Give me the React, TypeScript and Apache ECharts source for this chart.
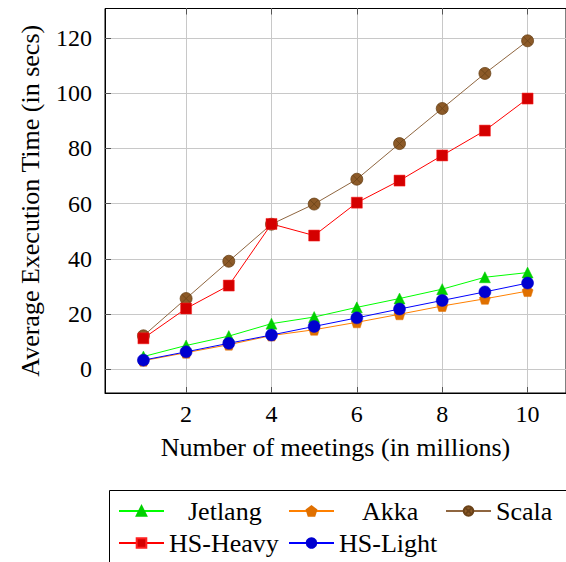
import React, { useEffect, useRef } from "react";
import * as echarts from "echarts";

const xValues = [1, 2, 3, 4, 5, 6, 7, 8, 9, 10];
const jetlang = [4.6, 8.6, 12.0, 16.5, 18.9, 22.4, 25.6, 29.0, 33.3, 35.0];
const akka = [3.1, 6.0, 8.9, 12.2, 14.3, 17.0, 19.9, 22.9, 25.5, 28.3];
const scala = [12.1, 25.6, 39.1, 52.5, 59.8, 68.8, 81.7, 94.4, 107.1, 118.9];
const hsHeavy = [11.2, 22.0, 30.3, 52.6, 48.4, 60.3, 68.3, 77.4, 86.4, 98.0];
const hsLight = [3.3, 6.3, 9.4, 12.4, 15.5, 18.6, 21.8, 24.9, 28.0, 31.2];

const xTicks = [2, 4, 6, 8, 10];
const yTicks = [0, 20, 40, 60, 80, 100, 120];

const FONT = "Times New Roman";
const FS = 24;
const FS_BIG = 26;

const pentagon =
  "path://M0,-1 L0.951,-0.309 L0.588,0.809 L-0.588,0.809 L-0.951,-0.309 Z";
const otimes =
  "path://M1,0 A1,1 0 1 1 -1,0 A1,1 0 1 1 1,0 Z M-0.7,-0.7 L0.7,0.7 M-0.7,0.7 L0.7,-0.7";

function pairs(ys: number[]) {
  return xValues.map((x, i) => [x, ys[i]]);
}

export default function App() {
  const ref = useRef<HTMLDivElement>(null);
  useEffect(() => {
    if (!ref.current) return;
    const chart = echarts.init(ref.current, undefined, { renderer: "svg" });
    const seriesDefs = [
      { name: "Jetlang", data: jetlang, line: "#00ff00", fill: "#00d000", border: "#00d000", symbol: "triangle", size: 11 },
      { name: "Akka", data: akka, line: "#ff8000", fill: "#e07000", border: "#e07000", symbol: pentagon, size: 11 },
      { name: "Scala", data: scala, line: "#8f6640", fill: "#8c5a28", border: "#6a4218", symbol: otimes, size: 12 },
      { name: "HS-Heavy", data: hsHeavy, line: "#ff0000", fill: "#d40000", border: "#ff2020", symbol: "rect", size: 11 },
      { name: "HS-Light", data: hsLight, line: "#0000ff", fill: "#0000d0", border: "#0000d0", symbol: "circle", size: 12 },
    ];
    const legendPos: Record<string, { left: number; top: number; pad: number }> = {
      Jetlang: { left: 118, top: 498, pad: 19 },
      Akka: { left: 288, top: 498, pad: 23 },
      Scala: { left: 445, top: 498, pad: 0 },
      "HS-Heavy": { left: 118, top: 530, pad: 0 },
      "HS-Light": { left: 288, top: 530, pad: 0 },
    };
    const option: any = {
      animation: false,
      backgroundColor: "#ffffff",
      textStyle: { fontFamily: FONT, fontSize: FS },
      grid: {
        left: 105,
        top: 8.5,
        right: -5,
        bottom: 169,
        show: true,
        borderColor: "#000",
        borderWidth: 1,
        backgroundColor: "transparent",
      },
      xAxis: [
        {
          type: "value",
          min: 0.1,
          max: 10.9,
          name: "Number of meetings (in millions)",
          nameLocation: "middle",
          nameGap: 41,
          nameTextStyle: { fontFamily: FONT, fontSize: FS_BIG, color: "#000" },
          axisLine: { show: true, onZero: false, lineStyle: { color: "#000", width: 1 } },
          axisTick: { show: true, inside: true, length: 6, customValues: xTicks, lineStyle: { color: "#555" } },
          axisLabel: { customValues: xTicks, fontFamily: FONT, fontSize: FS, color: "#000", margin: 9 },
          splitLine: { show: true, lineStyle: { color: "#c8c8c8", width: 1 } },
        },
        {
          type: "value",
          position: "top",
          min: 0.1,
          max: 10.9,
          axisLine: { show: false, onZero: false },
          axisTick: { show: true, inside: true, length: 6, customValues: xTicks, lineStyle: { color: "#555" } },
          axisLabel: { show: false },
          splitLine: { show: false },
        },
      ],
      yAxis: [
        {
          type: "value",
          min: -8.6,
          max: 130.6,
          name: "Average Execution Time (in secs)",
          nameLocation: "middle",
          nameGap: 62,
          nameRotate: 90,
          nameTextStyle: { fontFamily: FONT, fontSize: FS_BIG, color: "#000" },
          axisLine: { show: true, onZero: false, lineStyle: { color: "#000", width: 1 } },
          axisTick: { show: true, inside: true, length: 6, customValues: yTicks, lineStyle: { color: "#555" } },
          axisLabel: { customValues: yTicks, fontFamily: FONT, fontSize: FS, color: "#000", margin: 13 },
          splitLine: { show: true, lineStyle: { color: "#c8c8c8", width: 1 } },
        },
      ],
      legend: seriesDefs.map((s) => ({
        data: [s.name],
        left: legendPos[s.name].left,
        top: legendPos[s.name].top,
        padding: 0,
        itemWidth: 45,
        itemHeight: 12,
        itemGap: 0,
        selectedMode: false,
        textStyle: {
          fontFamily: FONT,
          fontSize: FS_BIG,
          color: "#000",
          padding: [0, 0, 0, legendPos[s.name].pad],
        },
      })),
      graphic: [
        {
          type: "rect",
          shape: { x: 109.5, y: 490.5, width: 500, height: 100 },
          style: { fill: "none", stroke: "#000", lineWidth: 1 },
          silent: true,
        },
      ],
      series: seriesDefs.map((s) => ({
        name: s.name,
        type: "line",
        data: pairs(s.data),
        symbol: s.symbol,
        symbolSize: s.size,
        showSymbol: true,
        lineStyle: { color: s.line, width: 1 },
        itemStyle: { color: s.fill, borderColor: s.border, borderWidth: s.name === "Scala" ? 0.8 : 0.5 },
        emphasis: { disabled: true },
        clip: false,
      })),
    };
    chart.setOption(option);
    return () => chart.dispose();
  }, []);
  return (
    <div
      ref={ref}
      style={{ position: "fixed", left: 0, top: 0, width: 566, height: 562 }}
    />
  );
}
